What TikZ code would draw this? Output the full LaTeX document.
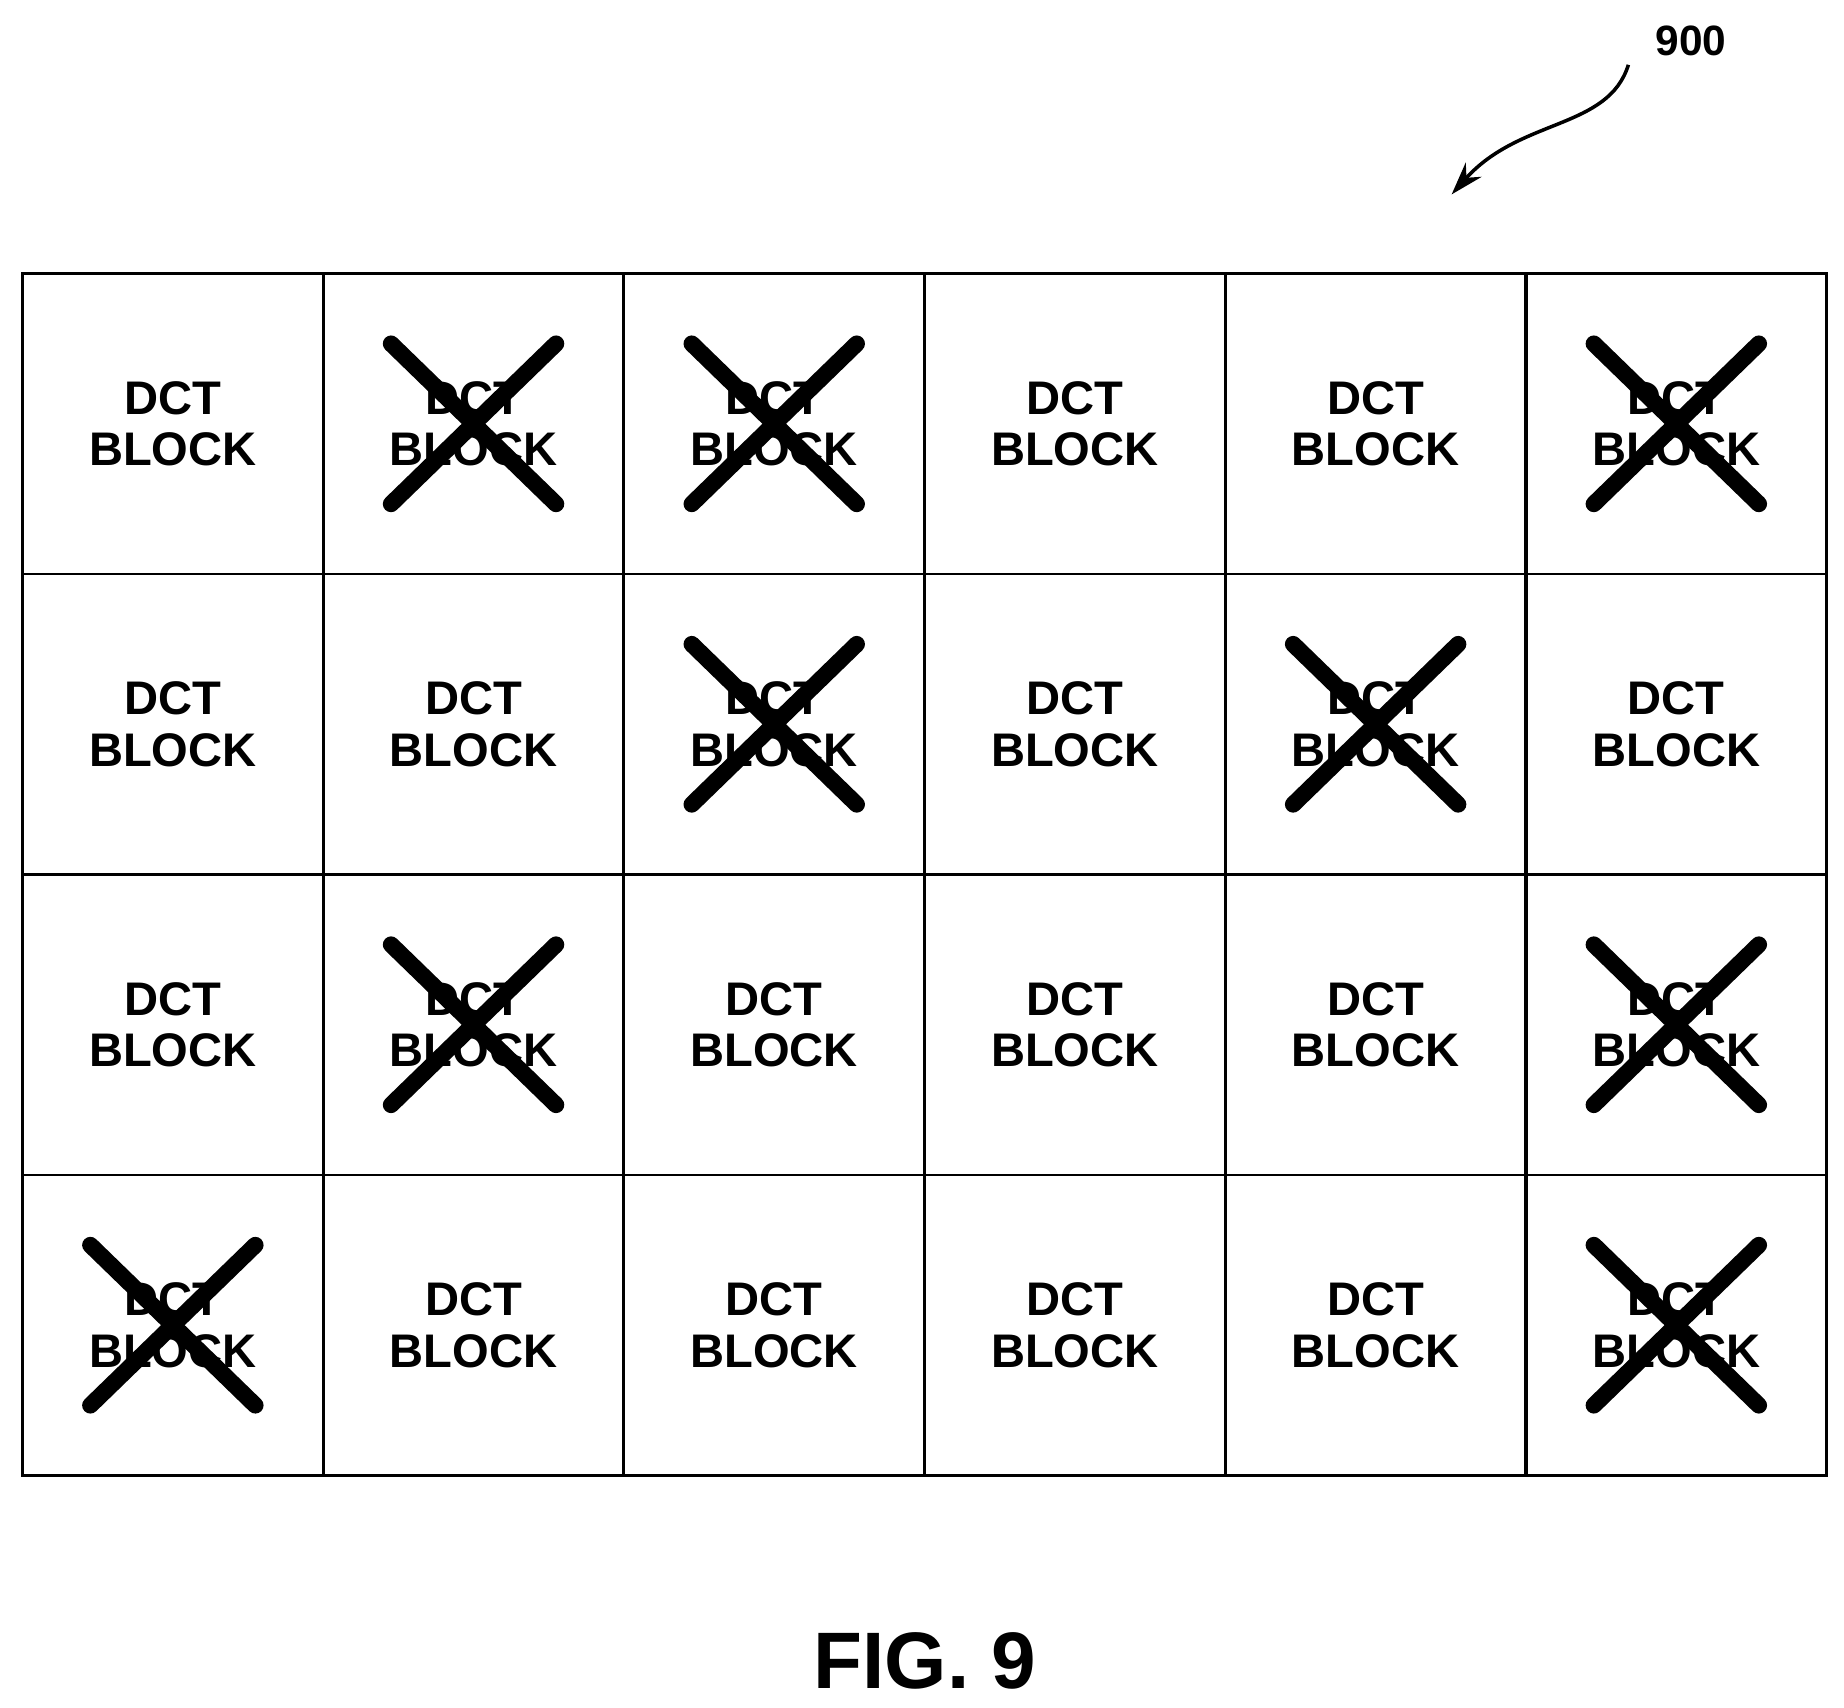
\documentclass[tikz,border=0pt]{standalone}
\usepackage{fontspec}
\setmainfont{Liberation Sans}
\usetikzlibrary{arrows.meta}
\begin{document}
\begin{tikzpicture}[x=0.5pt,y=-0.5pt,
  cell/.style={draw,line width=1.2pt,minimum width=127.5pt,minimum height=127.5pt,inner sep=0pt,anchor=north west,align=center,font=\fontsize{20}{24}\selectfont\bfseries},
  xmark/.style={line width=7pt,line cap=round}]
\useasboundingbox (0,0) rectangle (1565,1449);
\foreach \r in {0,...,3}{
  \foreach \c in {0,...,5}{
    \node[cell] (n\r\c) at ({18+255.2*\c},{231+255*\r}) {DCT\\[-2pt]BLOCK};
  }
}
\foreach \r/\c in {0/1,0/2,0/5,1/2,1/4,2/1,2/5,3/0,3/5}{
  \draw[xmark] ([shift={(-70,-68)}]n\r\c.center) -- ([shift={(70,68)}]n\r\c.center);
  \draw[xmark] ([shift={(70,-68)}]n\r\c.center) -- ([shift={(-70,68)}]n\r\c.center);
}
\node[font=\fontsize{18}{20}\selectfont\bfseries] (lab) at (1435,35) {900};
\coordinate (tip) at (1232,165);
\draw[line width=1.5pt,-{Stealth[length=14pt,width=9pt]}] (1382,55) .. controls (1365,110) and (1290,100) .. (tip);
\node[font=\fontsize{34}{40}\selectfont\bfseries] (fig) at (785,1410) {FIG. 9};
\end{tikzpicture}
\end{document}
